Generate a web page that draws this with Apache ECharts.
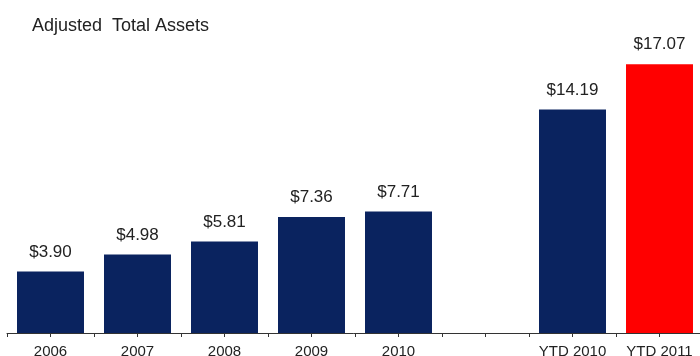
<!DOCTYPE html>
<html>
<head>
<meta charset="utf-8">
<script src="https://cdn.jsdelivr.net/npm/echarts@6/dist/echarts.min.js"></script>
<style>
  html, body { margin: 0; padding: 0; background: #fff; }
  #chart { width: 700px; height: 356px; }
</style>
</head>
<body>
<div id="chart"></div>
<script>
var categories = ['2006', '2007', '2008', '2009', '2010', '', 'YTD 2010', 'YTD 2011'];
var values = [3.90, 4.98, 5.81, 7.36, 7.71, null, 14.19, 17.07];
var barColors = ['#0a235f', '#0a235f', '#0a235f', '#0a235f', '#0a235f', '#0a235f', '#0a235f', '#ff0000'];

var data = values.map(function (v, i) {
    return { value: v, itemStyle: { color: barColors[i] } };
});

var chart = echarts.init(document.getElementById('chart'));
chart.setOption({
    animation: false,
    title: {
        text: 'Adjusted  Total Assets',
        left: 27,
        top: 12,
        textStyle: { fontFamily: 'Liberation Sans', fontSize: 18, fontWeight: 'normal', color: '#222' }
    },
    grid: { left: 7, right: -3, top: 18, bottom: 23, outerBoundsMode: 'none', containLabel: false },
    xAxis: [{
        type: 'category',
        data: categories,
        axisLine: { lineStyle: { color: '#333', width: 1 } },
        axisTick: { show: true, interval: 0, length: 4, lineStyle: { color: '#333' } },
        axisLabel: { interval: 0, margin: 11, fontFamily: 'Liberation Sans', fontSize: 15, color: '#222' }
    }, {
        type: 'category',
        data: categories,
        position: 'bottom',
        axisLine: { show: false },
        axisTick: { show: true, alignWithLabel: true, interval: 0, length: 4, lineStyle: { color: '#333' } },
        axisLabel: { show: false }
    }],
    yAxis: {
        type: 'value',
        min: 0,
        max: 20,
        show: false,
        splitLine: { show: false }
    },
    series: [{
        type: 'bar',
        data: data,
        barCategoryGap: '23%',
        label: {
            show: true,
            position: 'top',
            distance: 11,
            formatter: function (p) { return '$' + p.value.toFixed(2); },
            fontFamily: 'Liberation Sans',
            fontSize: 17,
            color: '#222'
        }
    }]
});
</script>
</body>
</html>
